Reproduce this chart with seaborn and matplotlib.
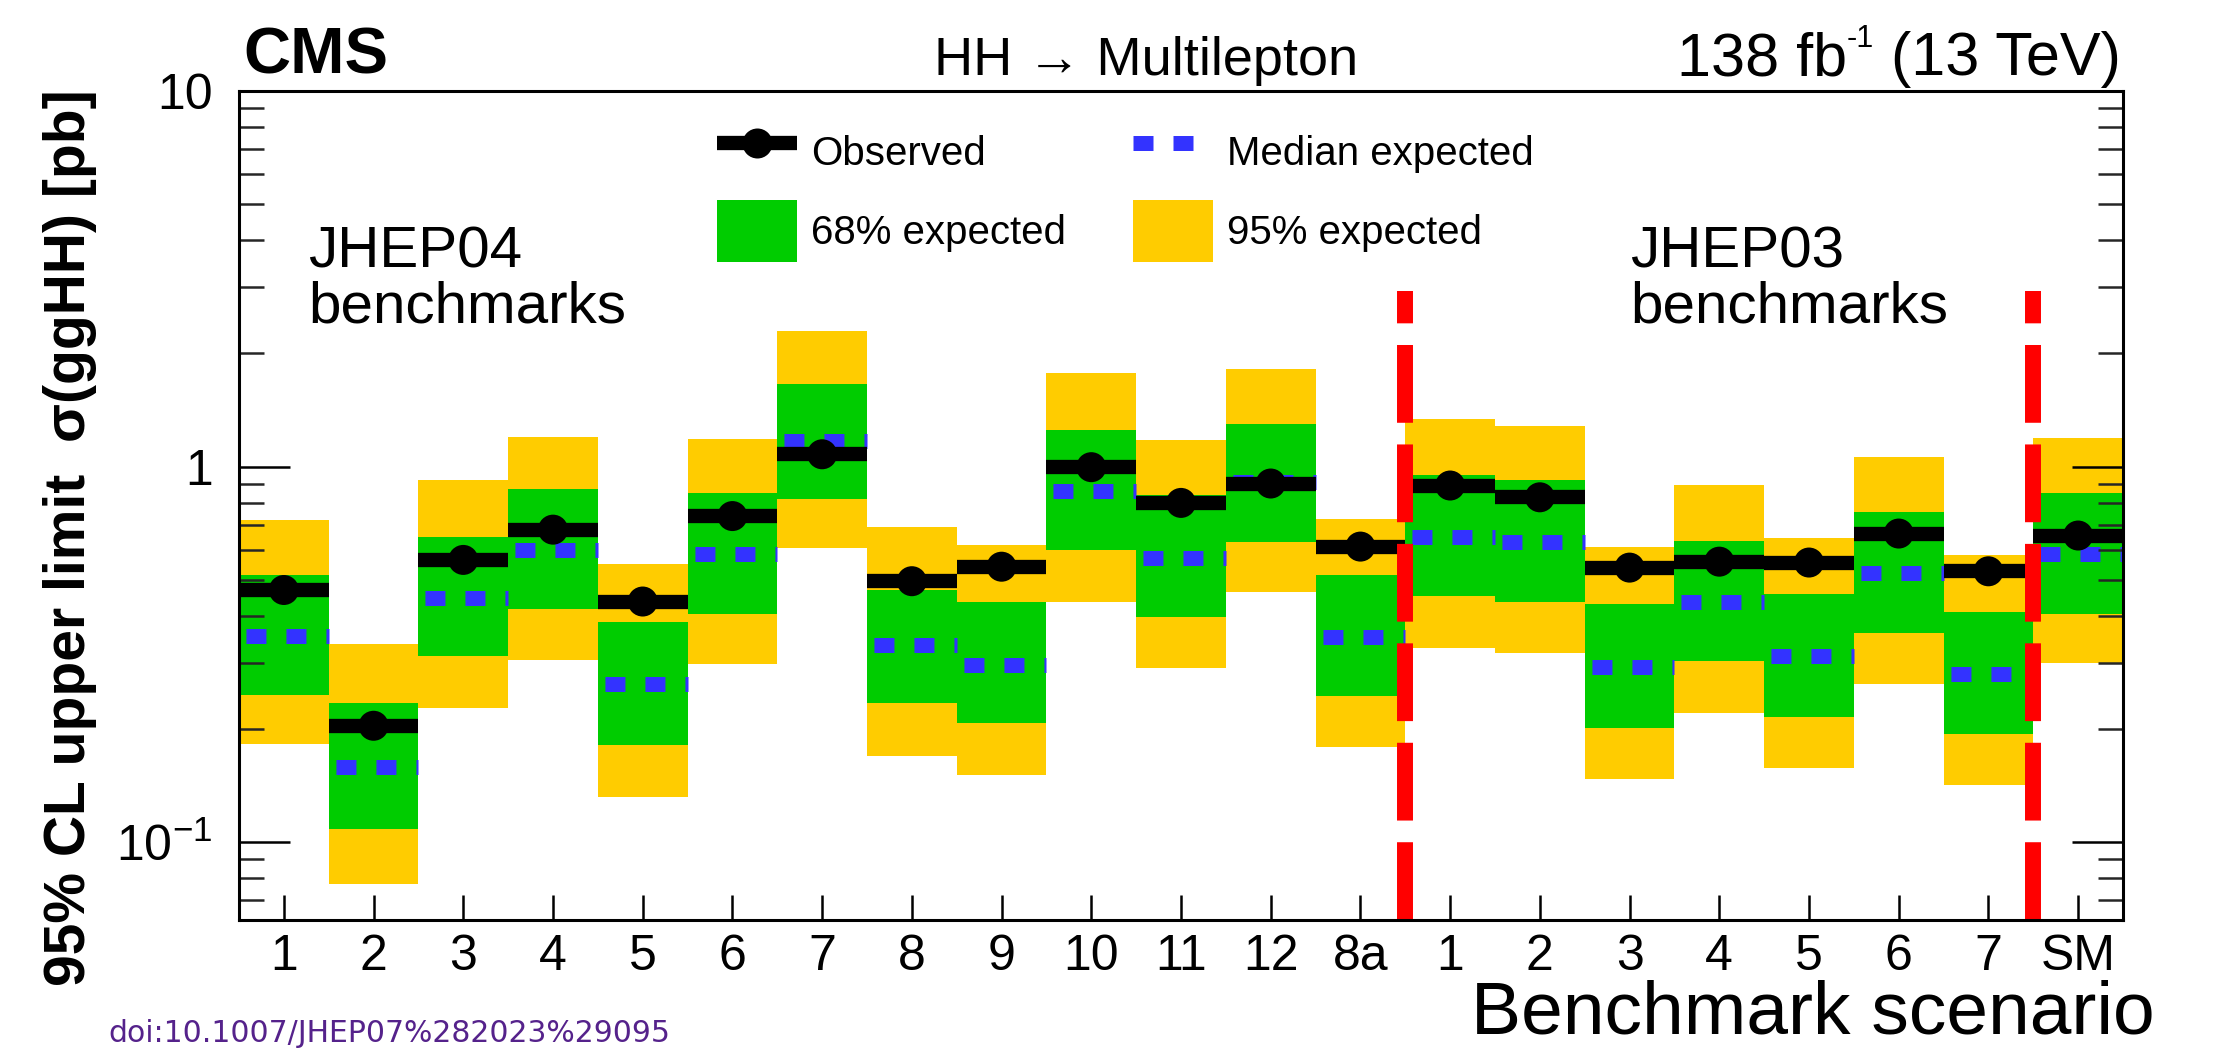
import numpy as np
import pandas as pd
import matplotlib
matplotlib.use("Agg")
import matplotlib.pyplot as plt
import seaborn as sns
from matplotlib.lines import Line2D
from matplotlib.patches import Patch
from matplotlib.ticker import FixedLocator, NullFormatter, NullLocator

# ---------------- data ----------------
labels = ["1", "2", "3", "4", "5", "6", "7", "8", "9", "10", "11", "12", "8a",
          "1", "2", "3", "4", "5", "6", "7", "SM"]
groups = ["JHEP04"] * 13 + ["JHEP03"] * 7 + ["SM"]
observed = [0.469, 0.204, 0.564, 0.679, 0.437, 0.738, 1.078, 0.495, 0.541, 0.996,
            0.800, 0.901, 0.612, 0.890, 0.828, 0.538, 0.558, 0.555, 0.663, 0.526, 0.655]
median_exp = [0.354, 0.158, 0.447, 0.598, 0.263, 0.584, 1.170, 0.335, 0.297, 0.858,
              0.572, 0.910, 0.352, 0.649, 0.630, 0.292, 0.435, 0.312, 0.519, 0.280, 0.586]
lo68 = [0.247, 0.108, 0.313, 0.417, 0.181, 0.404, 0.818, 0.234, 0.207, 0.598,
        0.398, 0.631, 0.245, 0.451, 0.435, 0.2015, 0.303, 0.215, 0.361, 0.194, 0.406]
hi68 = [0.515, 0.2345, 0.651, 0.871, 0.386, 0.851, 1.658, 0.470, 0.435, 1.250,
        0.842, 1.300, 0.515, 0.950, 0.919, 0.431, 0.634, 0.458, 0.756, 0.410, 0.850]
lo95 = [0.182, 0.0775, 0.228, 0.306, 0.132, 0.298, 0.605, 0.170, 0.151, 0.436,
        0.290, 0.462, 0.179, 0.328, 0.319, 0.147, 0.220, 0.157, 0.264, 0.142, 0.300]
hi95 = [0.721, 0.337, 0.919, 1.200, 0.549, 1.184, 2.300, 0.690, 0.617, 1.770,
        1.180, 1.820, 0.727, 1.340, 1.282, 0.611, 0.892, 0.646, 1.060, 0.580, 1.190]
y_min, y_max = 0.062, 10.0
divider_top = 2.94

GREEN = "#00cc00"
YELLOW = "#ffcc00"
BLUE = "#3333ff"
RED = "#ff0000"

# ---------------- style ----------------
sns.set_theme(style="ticks")
plt.rcParams["font.family"] = ["Liberation Sans", "DejaVu Sans"]
plt.rcParams["mathtext.fontset"] = "custom"
plt.rcParams["mathtext.rm"] = "Liberation Sans"
plt.rcParams["mathtext.it"] = "Liberation Sans:italic"
plt.rcParams["mathtext.bf"] = "Liberation Sans:bold"
plt.rcParams["lines.scale_dashes"] = False
plt.rcParams["text.color"] = "black"

W, H = 2213, 1050
PX = 100 / 72.0  # pixels per point

df = pd.DataFrame({
    "pos": np.arange(len(labels)),
    "label": labels,
    "group": groups,
    "obs": observed,
    "med": median_exp,
    "lo68": lo68, "hi68": hi68,
    "lo95": lo95, "hi95": hi95,
})

fig = plt.figure(figsize=(W / 100, H / 100), dpi=100)
ax = fig.add_axes([239 / W, 130 / H, (2123 - 239) / W, (920 - 91) / H])
ax.set_yscale("log")

# bands
ax.bar(df["pos"], df["hi95"] - df["lo95"], bottom=df["lo95"], width=1.0,
       color=YELLOW, linewidth=0, zorder=1)
ax.bar(df["pos"], df["hi68"] - df["lo68"], bottom=df["lo68"], width=1.0,
       color=GREEN, linewidth=0, zorder=1.1)

# median expected (dashed per bin)
ax.hlines(df["med"], df["pos"] - 0.5, df["pos"] + 0.5, colors=BLUE,
          linewidth=10.8, linestyles=[(23.8, (14.4, 14.4))], zorder=2)

# observed
ax.hlines(df["obs"], df["pos"] - 0.5, df["pos"] + 0.5, colors="black",
          linewidth=10.3, zorder=3)
sns.scatterplot(data=df, x="pos", y="obs", color="black", s=21.6 ** 2,
                edgecolor="none", linewidth=0, zorder=4, ax=ax, legend=False)

# group dividers
boundaries = [i + 0.5 for i in range(len(groups) - 1) if groups[i] != groups[i + 1]]
for xb in boundaries:
    ax.plot([xb, xb], [y_min, divider_top], color=RED, lw=11.5,
            dashes=(56, 15.6), dash_capstyle="butt", zorder=5)

ax.set_xlabel("")
ax.set_ylabel("")
ax.set_xlim(-0.5, len(labels) - 0.5)
ax.set_ylim(y_min, y_max)
ax.set_axisbelow(False)

# ticks
ax.set_xticks(df["pos"])
ax.set_xticklabels(labels)
ax.xaxis.set_minor_locator(NullLocator())
ax.set_yticks([0.1, 1, 10])
ax.set_yticklabels([r"$\mathregular{10^{-1}}$", "1", "10"])
minors = [k * 10.0 ** d for d in (-2, -1, 0) for k in range(2, 10)]
ax.yaxis.set_minor_locator(FixedLocator(minors))
ax.yaxis.set_minor_formatter(NullFormatter())
ax.tick_params(axis="y", which="major", direction="in", length=37, width=1.8,
               left=True, right=True, labelsize=36, pad=19, colors="black")
ax.tick_params(axis="y", which="minor", direction="in", length=18, width=1.8,
               left=True, right=True)
ax.tick_params(axis="x", which="major", direction="in", length=18, width=1.8,
               bottom=True, top=False, labelsize=36, pad=10, colors="black")
for sp in ax.spines.values():
    sp.set_visible(True)
    sp.set_linewidth(2.2)
    sp.set_color("black")
    sp.set_zorder(6)

# legend: two columns, each its own legend anchored at its handle position
LEG_FS = 29.0
fs_px = LEG_FS * PX
leg_kw = dict(loc="upper left", frameon=False, fontsize=LEG_FS,
              handlelength=80 / fs_px,
              handleheight=(62 / fs_px - 0.245) / 0.65,
              handletextpad=14 / fs_px,
              labelspacing=17 / fs_px,
              borderpad=0, borderaxespad=0)
col1_handles = [
    Line2D([0], [0], color="black", lw=10.3, marker="o", markersize=21.6,
           markeredgewidth=0, solid_capstyle="butt"),
    Patch(facecolor=GREEN, edgecolor="none"),
]
col2_handles = [
    Line2D([0], [0], color=BLUE, lw=10.8, dashes=(14.4, 14.4), dash_capstyle="butt"),
    Patch(facecolor=YELLOW, edgecolor="none"),
]
leg_top = (920 - 121) / 829
leg1 = ax.legend(col1_handles, ["Observed", "68% expected"],
                 bbox_to_anchor=((717 - 239) / 1884, leg_top), **leg_kw)
ax.add_artist(leg1)
ax.legend(col2_handles, ["Median expected", "95% expected"],
          bbox_to_anchor=((1133 - 239) / 1884, leg_top), **leg_kw)

# in-plot texts
for xf, name in [(0.0366, "JHEP04"), (0.7383, "JHEP03")]:
    ax.text(xf, 0.7865, name, transform=ax.transAxes, fontsize=42,
            ha="left", va="baseline", zorder=7)
    ax.text(xf, 0.7213, "benchmarks", transform=ax.transAxes, fontsize=42,
            ha="left", va="baseline", zorder=7)

# figure texts
fig.text(243 / W, 1 - 74 / H, "CMS", fontsize=47, fontweight="bold",
         ha="left", va="baseline")
fig.text(1146 / W, 1 - 75 / H, "HH \u2192 Multilepton", fontsize=39,
         ha="center", va="baseline")

# luminosity label composed right-to-left: "138 fb" + superscript "-1" + " (13 TeV)"
renderer = fig.canvas.get_renderer()
t3 = fig.text(2121 / W, 1 - 75 / H, " (13 TeV)", fontsize=44,
              ha="right", va="baseline")
x3 = t3.get_window_extent(renderer).x0
t2 = fig.text(x3 / W, 1 - 47 / H, "-1", fontsize=22, ha="right", va="baseline")
x2 = t2.get_window_extent(renderer).x0
fig.text(x2 / W, 1 - 75 / H, "138 fb", fontsize=44, ha="right", va="baseline")

fig.text(70 / W, 1 - 538 / H, "95% CL upper limit  \u03c3(ggHH) [pb]",
         fontsize=41, fontweight="bold", rotation=90, ha="center", va="center")
fig.text(2155 / W, 1 - 1034 / H, "Benchmark scenario", fontsize=54,
         ha="right", va="baseline")
fig.text(108 / W, 8 / H, "doi:10.1007/JHEP07%282023%29095",
         fontsize=21.5, family="DejaVu Sans", color="#55228b",
         ha="left", va="baseline")

fig.savefig("out.png", dpi=100)
